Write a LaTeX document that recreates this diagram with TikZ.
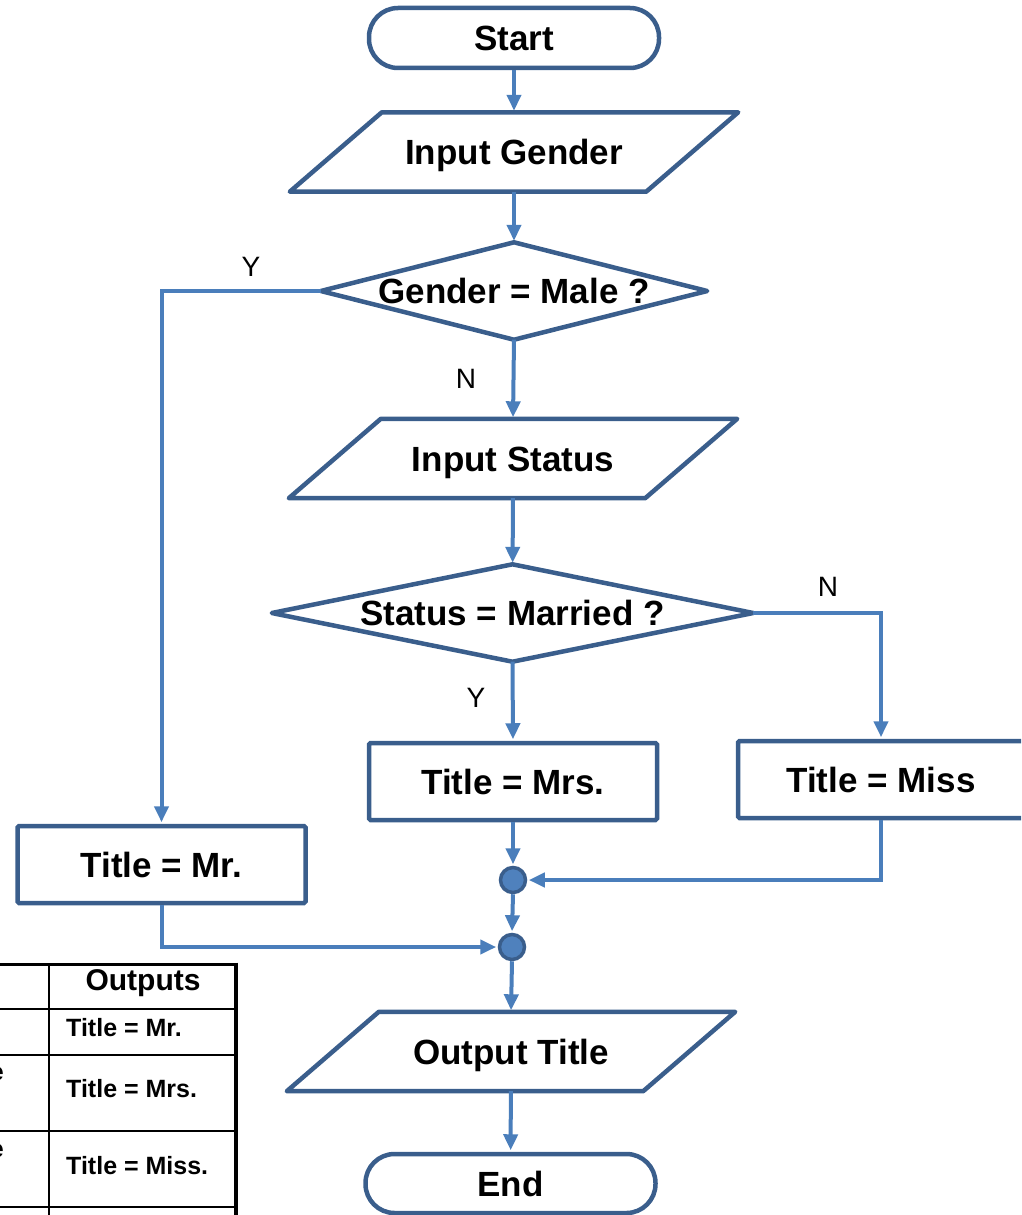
\documentclass[tikz,border=0pt]{standalone}
\usepackage{fontspec}
\setmainfont{Liberation Sans}
\usetikzlibrary{arrows.meta}
\definecolor{edge}{HTML}{3A5E8C}
\definecolor{flow}{HTML}{4A7EBB}
\definecolor{dot}{HTML}{4F81BD}

\begin{document}
\begin{tikzpicture}[x=1pt,y=-1pt,
  lbl/.style={font=\fontsize{35}{40}\selectfont\bfseries, inner sep=0pt,
    text height=25pt, text depth=0pt},
  term/.style={lbl, draw=edge, line width=4.5pt, rounded corners=29pt,
    minimum width=290pt, minimum height=60pt},
  proc/.style={lbl, draw=edge, line width=4.5pt, rounded corners=1.5pt,
    minimum width=288pt, minimum height=77pt},
  iobox/.style={lbl, minimum width=448pt, minimum height=79pt},
  decide/.style={lbl, minimum width=#1, minimum height=97pt},
  outline/.style={draw=edge, line width=4.5pt, line join=round},
  wire/.style={draw=flow, line width=4pt},
  flowline/.style={wire, -{Triangle[length=16pt,width=14pt]}, shorten >=1.5pt},
  junction/.style={circle, fill=dot, draw=edge, line width=3.5pt,
    minimum size=25pt, inner sep=0pt},
  yn/.style={font=\fontsize{28}{32}\selectfont, inner sep=0pt},
  tabhead/.style={font=\fontsize{30}{34}\selectfont\bfseries, inner sep=0pt,
    text height=21.5pt, text depth=0pt},
  tabcell/.style={font=\fontsize{25}{30}\selectfont\bfseries, inner sep=0pt,
    text height=18pt, text depth=0pt},
  grid/.style={draw=black, line width=1.8pt}
]
\useasboundingbox (0,0) rectangle (1021,1215);
\clip (0,0) rectangle (1021,1215);

% ---- flowchart nodes ----
\node[term] (start) at (514,38) {Start};
\node[iobox] (ingender) at (514,152) {Input Gender};
\node[decide=386pt] (male) at (514,291) {Gender = Male ?};
\node[iobox] (instatus) at (513,458.5) {Input Status};
\node[decide=481pt] (married) at (512.5,613) {Status = Married ?};
\node[proc] (mr) at (161.5,864.5) {Title = Mr.};
\node[proc] (mrs) at (513,781.5) {Title = Mrs.};
\node[proc, minimum width=286pt] (miss) at (881,779.5) {Title = Miss};
\node[junction] (j1) at (513,880) {};
\node[junction] (j2) at (512,947) {};
\node[iobox] (outtitle) at (511,1051.5) {Output Title};
\node[term, minimum height=59pt] (stop) at (510.5,1183.5) {End};

% ---- parallelogram outlines (slant 92pt) ----
\foreach \n in {ingender,instatus,outtitle}
  \draw[outline] ([xshift=92pt]\n.north west) -- (\n.north east)
    -- ([xshift=-92pt]\n.south east) -- (\n.south west) -- cycle;

% ---- decision outlines ----
\foreach \n in {male,married}
  \draw[outline] (\n.north) -- (\n.east) -- (\n.south) -- (\n.west) -- cycle;

% ---- connectors ----
\draw[flowline] (start) -- (ingender);
\draw[flowline] (ingender) -- (male);
\draw[flowline] (male.west) -| (mr.north);
\draw[flowline] (male.south) -- (instatus.north);
\draw[flowline] (instatus) -- (married);
\draw[flowline] (married.east) -| (miss.north);
\draw[flowline] (married.south) -- (mrs.north);
\draw[flowline] (mrs.south) -- (j1.north);
\draw[flowline] (miss.south) |- (j1.east);
\draw[flowline] (j1.south) -- (j2.north);
\draw[flowline] (mr.south) |- (j2.west);
\draw[flowline] (j2.south) -- (outtitle.north);
\draw[flowline] (outtitle) -- (stop);

% ---- branch labels ----
\node[yn] (ymale) at (251,267) {Y};
\node[yn] (nmale) at (466,379) {N};
\node[yn] (nmar) at (828,587) {N};
\node[yn] (ymar) at (476,698) {Y};

% ---- outputs table ----
\draw[draw=black, line width=3pt] (0,964) -- (237,964);
\draw[draw=black, line width=4pt] (236,962.5) -- (236,1215);
\draw[grid] (49,964) -- (49,1215);
\foreach \y in {1009,1055,1131,1207}
  \draw[grid] (0,\y) -- (236,\y);
\node[tabhead] (thead) at (143,980) {Outputs};
\node[tabcell, anchor=west] (tmr) at (66,1027) {Title = Mr.};
\node[tabcell, anchor=west] (tmrs) at (66,1088) {Title = Mrs.};
\node[tabcell, anchor=west] (tmiss) at (66,1165) {Title = Miss.};
\node[tabcell, anchor=base east] (ea) at (4,1080) {e};
\node[tabcell, anchor=base east] (eb) at (4,1157) {e};
\end{tikzpicture}
\end{document}
